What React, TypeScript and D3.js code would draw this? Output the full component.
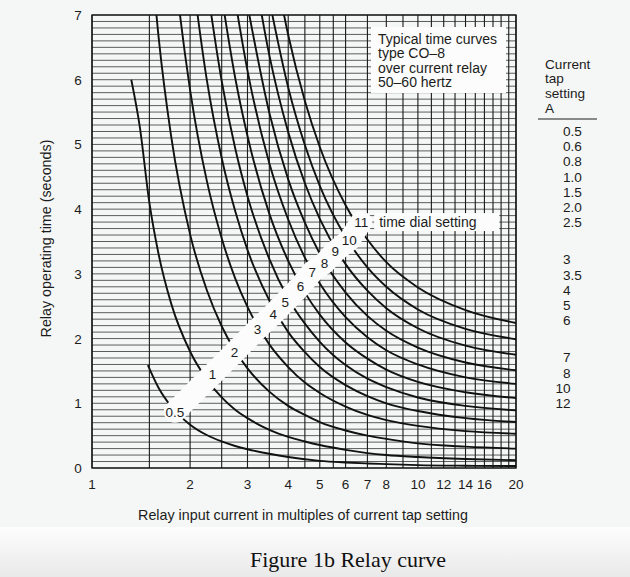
import React from 'react';
import * as d3 from 'd3';

const W = 630;
const H = 577;

const xTicks = [1, 2, 3, 4, 5, 6, 7, 8, 10, 12, 14, 16, 20];
const xTickLabels = ['1', '2', '3', '4', '5', '6', '7', '8', '10', '12', '14', '16', '20'];
const yTicks = [0, 1, 2, 3, 4, 5, 6, 7];
const xGrid = [1, 1.5, 2, 2.5, 3, 3.5, 4, 4.5, 5, 5.5, 6, 7, 8, 9, 10, 11, 12, 13, 14, 15, 16, 17, 18, 19, 20];

const dialLabels = ['0.5', '1', '2', '3', '4', '5', '6', '7', '8', '9', '10', '11'];
const labelM = [1.795, 2.345, 2.738, 3.222, 3.6, 3.92, 4.36, 4.74, 5.17, 5.58, 6.16, 6.7];
const labelT = [0.87, 1.45, 1.79, 2.15, 2.38, 2.57, 2.81, 3.03, 3.17, 3.35, 3.52, 3.8];

// [multiple of tap setting, seconds]
const dial05 = [[1.484, 1.59], [1.6, 1.24], [1.75, 0.95], [2, 0.67], [2.25, 0.51], [2.5, 0.41], [2.75, 0.34], [3, 0.29], [3.5, 0.22], [4, 0.17], [5, 0.11], [6, 0.085], [7, 0.07], [8, 0.06], [10, 0.045], [14, 0.035], [20, 0.03]];
const dial1 = [[1.32, 6.0], [1.4, 5.29], [1.5, 4.1], [1.6, 3.31], [1.75, 2.54], [2, 1.8], [2.25, 1.37], [2.5, 1.09], [2.75, 0.9], [3, 0.77], [3.5, 0.59], [4, 0.48], [4.5, 0.41], [5, 0.355], [6, 0.28], [7, 0.23], [8, 0.2], [10, 0.17], [14, 0.14], [20, 0.12]];
const dial2 = [[1.5, 8.25], [1.6, 6.67], [1.75, 5.12], [2, 3.61], [2.25, 2.75], [2.5, 2.19], [2.75, 1.81], [3, 1.54], [3.5, 1.18], [4, 0.96], [4.5, 0.82], [5, 0.71], [6, 0.58], [7, 0.5], [8, 0.45], [10, 0.38], [14, 0.33], [20, 0.3]];
const dial3 = [[1.75, 8.28], [1.8, 7.66], [2, 5.84], [2.25, 4.44], [2.5, 3.55], [2.75, 2.93], [3, 2.49], [3.5, 1.91], [4, 1.56], [4.5, 1.32], [5, 1.16], [6, 0.95], [7, 0.82], [8, 0.74], [10, 0.65], [14, 0.57], [20, 0.53]];
const dial4 = [[2, 7.9], [2.25, 6.0], [2.5, 4.79], [2.75, 3.97], [3, 3.37], [3.5, 2.59], [4, 2.1], [4.5, 1.79], [5, 1.56], [6, 1.28], [7, 1.11], [8, 1.0], [10, 0.88], [14, 0.77], [20, 0.71]];
const dial5 = [[2.25, 7.48], [2.5, 5.98], [2.75, 4.94], [3, 4.2], [3.5, 3.23], [4, 2.62], [4.5, 2.23], [5, 1.95], [6, 1.59], [7, 1.38], [8, 1.25], [10, 1.09], [14, 0.96], [20, 0.89]];
const dial6 = [[2.5, 7.29], [2.75, 6.03], [3, 5.13], [3.5, 3.93], [4, 3.2], [4.5, 2.71], [5, 2.37], [6, 1.94], [7, 1.69], [8, 1.52], [10, 1.33], [14, 1.17], [20, 1.08]];
const dial7 = [[2.75, 7.23], [3, 6.14], [3.5, 4.71], [4, 3.84], [4.5, 3.25], [5, 2.85], [6, 2.33], [7, 2.02], [8, 1.82], [10, 1.6], [14, 1.4], [20, 1.3]];
const dial8 = [[3, 7.15], [3.5, 5.49], [4, 4.46], [4.5, 3.79], [5, 3.31], [6, 2.71], [7, 2.35], [8, 2.12], [10, 1.86], [14, 1.63], [20, 1.51]];
const dial9 = [[3, 8.31], [3.5, 6.38], [4, 5.19], [4.5, 4.4], [5, 3.85], [6, 3.15], [7, 2.74], [8, 2.47], [10, 2.16], [14, 1.89], [20, 1.75]];
const dial10 = [[3.5, 7.23], [4, 5.88], [4.5, 4.99], [5, 4.36], [6, 3.57], [7, 3.1], [8, 2.8], [10, 2.45], [14, 2.15], [20, 1.99]];
const dial11 = [[3.5, 8.22], [4, 6.69], [4.5, 5.67], [5, 4.96], [6, 4.06], [7, 3.53], [8, 3.18], [10, 2.79], [14, 2.44], [20, 2.24]];
const dialCurves = [dial05, dial1, dial2, dial3, dial4, dial5, dial6, dial7, dial8, dial9, dial10, dial11];

const boxLines = ['Typical time curves', 'type CO\u20138', 'over current relay', '50\u201360 hertz'];
const tapHeader = ['Current', 'tap', 'setting', 'A'];
const tapSettings = ['0.5', '0.6', '0.8', '1.0', '1.5', '2.0', '2.5', '3', '3.5', '4', '5', '6', '7', '8', '10', '12'];
const tapGroup = [0, 0, 0, 0, 0, 0, 0, 1, 1, 1, 1, 1, 2, 2, 2, 2];

const SANS = "'Liberation Sans', Arial, Helvetica, sans-serif";
const INK = '#1c1c1c';
const PAPER = '#fbfcfb';

export default function App() {
  const x = d3.scaleLog().domain([1, 20]).range([92, 516]);
  const y = d3.scaleLinear().domain([0, 7]).range([468, 15]);
  const [x0, x1] = x.range();
  const [y0, y1] = y.range();
  const hGrid = d3.range(0, 71).map((i) => i / 10);

  const line = d3
    .line<number[]>()
    .x((d) => x(d[0]))
    .y((d) => y(d[1]))
    .curve(d3.curveMonotoneX);

  const band = d3
    .line<number>()
    .x((i) => x(labelM[i]))
    .y((i) => y(labelT[i]))
    .curve(d3.curveLinear)(labelM.map((_, i) => i));

  const l11x = x(labelM[11]);
  const l11y = y(labelT[11]);

  return (
    <svg
      width={W}
      height={H}
      viewBox={`0 0 ${W} ${H}`}
      style={{ position: 'absolute', left: 0, top: 0, display: 'block' }}
    >
      <defs>
        <clipPath id="plotClip">
          <rect x={x0} y={y1} width={x1 - x0} height={y0 - y1} />
        </clipPath>
        <linearGradient id="foot" x1="0" y1="0" x2="0" y2="1">
          <stop offset="0" stopColor="#fdfdfd" />
          <stop offset="1" stopColor="#e9e9e9" />
        </linearGradient>
      </defs>
      <rect x={0} y={0} width={W} height={527} fill="#f5f7f6" />
      <rect x={0} y={527} width={W} height={H - 527} fill="url(#foot)" />

      {/* grid */}
      <g>
        {hGrid.map((t, i) => (
          <line key={'h' + i} x1={x0} x2={x1} y1={y(t)} y2={y(t)} stroke="#5c5c5c" strokeWidth={1} />
        ))}
        {xGrid.map((v, i) => (
          <line key={'v' + i} x1={x(v)} x2={x(v)} y1={y1} y2={y0} stroke="#1a1a1a" strokeWidth={1.1} />
        ))}
      </g>

      {/* curves */}
      <g clipPath="url(#plotClip)">
        {dialCurves.map((c, i) => (
          <path key={'c' + i} d={line(c as number[][]) || ''} fill="none" stroke="#111" strokeWidth={1.9} />
        ))}
      </g>

      {/* label band */}
      <path d={band || ''} fill="none" stroke={PAPER} strokeWidth={22} strokeLinecap="round" strokeLinejoin="round" />
      <rect x={l11x + 13} y={l11y - 9} width={125} height={18} fill={PAPER} />
      <text x={l11x + 18} y={l11y + 5} fontFamily={SANS} fontSize={14} fill={INK}>
        time dial setting
      </text>
      {dialLabels.map((s, i) => (
        <text
          key={'dl' + i}
          x={x(labelM[i])}
          y={y(labelT[i]) + 5}
          textAnchor="middle"
          fontFamily={SANS}
          fontSize={13.5}
          fill={INK}
        >
          {s}
        </text>
      ))}

      {/* note box */}
      <rect x={371} y={27} width={135} height={66} fill={PAPER} />
      {boxLines.map((s, i) => (
        <text key={'b' + i} x={378} y={43.5 + i * 14.6} fontFamily={SANS} fontSize={14} fill={INK}>
          {s}
        </text>
      ))}

      {/* frame */}
      <rect x={x0} y={y1} width={x1 - x0} height={y0 - y1} fill="none" stroke="#111" strokeWidth={1.3} />

      {/* axes labels */}
      {yTicks.map((t) => (
        <text key={'yt' + t} x={78} y={y(t) + 5} textAnchor="middle" fontFamily={SANS} fontSize={13.5} fill={INK}>
          {t}
        </text>
      ))}
      {xTicks.map((v, i) => (
        <text key={'xt' + i} x={x(v)} y={489} textAnchor="middle" fontFamily={SANS} fontSize={13.5} fill={INK}>
          {xTickLabels[i]}
        </text>
      ))}
      <text
        transform={`translate(51, ${(y0 + y1) / 2 - 3}) rotate(-90)`}
        textAnchor="middle"
        fontFamily={SANS}
        fontSize={14.3}
        fill={INK}
      >
        Relay operating time (seconds)
      </text>
      <text x={303} y={520} textAnchor="middle" fontFamily={SANS} fontSize={14.3} fill={INK}>
        Relay input current in multiples of current tap setting
      </text>

      {/* tap setting column */}
      {tapHeader.map((s, i) => (
        <text key={'th' + i} x={545} y={68.5 + i * 14.8} fontFamily={SANS} fontSize={13.6} fill={INK}>
          {s}
        </text>
      ))}
      <line x1={538} x2={597} y1={119} y2={119} stroke={INK} strokeWidth={1.2} />
      {tapSettings.map((s, i) => {
        const intLen = s.split('.')[0].length;
        return (
          <text
            key={'ts' + i}
            x={563 - (intLen - 1) * 7.6}
            y={131 + i * 15.2 + tapGroup[i] * 22 + 5}
            fontFamily={SANS}
            fontSize={13.6}
            fill={INK}
          >
            {s}
          </text>
        );
      })}

      <text
        x={348}
        y={567}
        textAnchor="middle"
        fontFamily="'Liberation Serif', 'Times New Roman', serif"
        fontSize={22}
        fill="#111"
      >
        Figure 1b Relay curve
      </text>
    </svg>
  );
}
